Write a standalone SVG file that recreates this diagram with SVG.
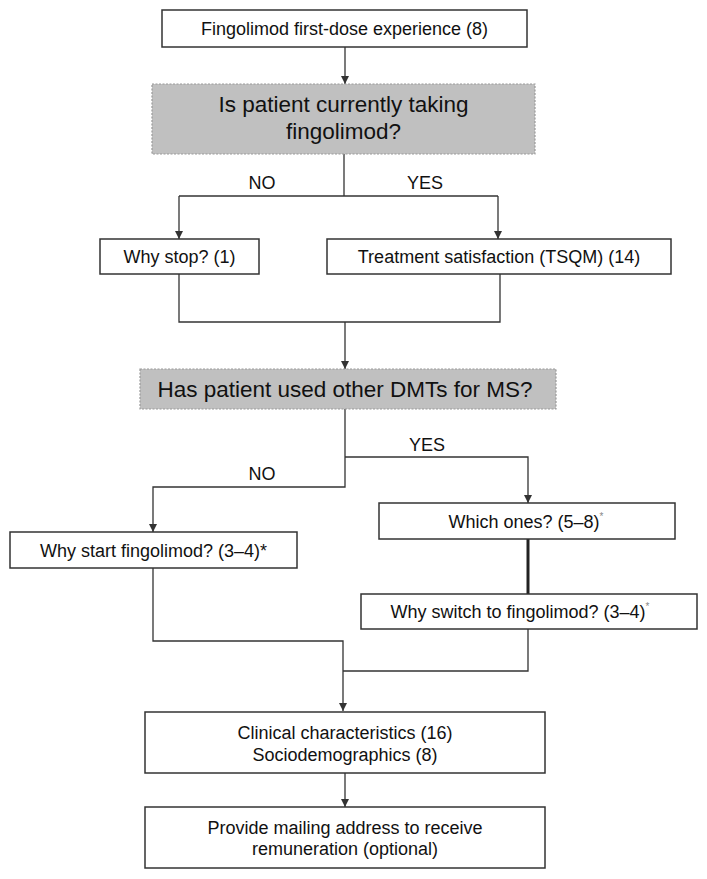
<svg xmlns="http://www.w3.org/2000/svg" width="707" height="879" viewBox="0 0 707 879">
<style>
.box{fill:#fff;stroke:#333;stroke-width:1.5}
.q{fill:#c0c0c0;stroke:#999;stroke-width:1.2;stroke-dasharray:2 1.5}
.t{font-family:"Liberation Sans",Arial,sans-serif;font-size:18px;fill:#111;text-anchor:middle}
.tq{font-family:"Liberation Sans",Arial,sans-serif;font-size:22.5px;fill:#111;text-anchor:middle}
.sup{font-size:10px;fill:#888}
.c{fill:none;stroke:#333;stroke-width:1.3}
</style>
<defs>
<marker id="ah" viewBox="0 0 10 10" refX="10" refY="5" markerWidth="8" markerHeight="8" markerUnits="userSpaceOnUse" orient="auto">
<path d="M0,0 L10,5 L0,10 z" fill="#333"/>
</marker>
</defs>
<g id="connectors">
<path class="c" d="M345,47 V84" marker-end="url(#ah)"/>
<path class="c" d="M344,154 V196"/>
<path class="c" d="M179,196 H498"/>
<path class="c" d="M179,196 V239" marker-end="url(#ah)"/>
<path class="c" d="M498,196 V239" marker-end="url(#ah)"/>
<path class="c" d="M179,274 V322 H500 V274"/>
<path class="c" d="M345,322 V369" marker-end="url(#ah)"/>
<path class="c" d="M345,409 V487 H153 V532" marker-end="url(#ah)"/>
<path class="c" d="M345,457 H528 V503" marker-end="url(#ah)"/>
<path d="M528,539 V594" fill="none" stroke="#222" stroke-width="3"/>
<path class="c" d="M153,568 V641 H343 V711" marker-end="url(#ah)"/>
<path class="c" d="M528,629 V671 H343"/>
<path class="c" d="M345,773 V807" marker-end="url(#ah)"/>
<text class="t" x="262" y="189">NO</text>
<text class="t" x="425" y="189">YES</text>
<text class="t" x="427" y="451">YES</text>
<text class="t" x="262" y="480">NO</text>
</g>
<g id="n1">
<rect class="box" x="162" y="10" width="365" height="37"/>
<text class="t" x="344.5" y="34.5">Fingolimod first-dose experience (8)</text>
</g>
<g id="q1">
<rect class="q" x="152" y="84" width="383" height="70"/>
<text class="tq" x="343.5" y="112">Is patient currently taking</text>
<text class="tq" x="343.5" y="139">fingolimod?</text>
</g>
<g id="n2">
<rect class="box" x="100" y="239" width="159" height="35"/>
<text class="t" x="179.5" y="263">Why stop? (1)</text>
</g>
<g id="n3">
<rect class="box" x="327" y="239" width="344" height="35"/>
<text class="t" x="499" y="263">Treatment satisfaction (TSQM) (14)</text>
</g>
<g id="q2">
<rect class="q" x="140" y="369" width="416" height="40"/>
<text class="tq" x="345" y="397">Has patient used other DMTs for MS?</text>
</g>
<g id="n4">
<rect class="box" x="10" y="532" width="287" height="36"/>
<text class="t" x="153.5" y="556.5">Why start fingolimod? (3–4)*</text>
</g>
<g id="n5">
<rect class="box" x="379" y="503" width="296" height="36"/>
<text class="t" x="526" y="527.5">Which ones? (5–8)<tspan class="sup" dy="-8">*</tspan></text>
</g>
<g id="n6">
<rect class="box" x="361" y="594" width="336" height="35"/>
<text class="t" x="520" y="618">Why switch to fingolimod? (3–4)<tspan class="sup" dy="-8">*</tspan></text>
</g>
<g id="n7">
<rect class="box" x="145" y="712" width="400" height="61"/>
<text class="t" x="345" y="738.5">Clinical characteristics (16)</text>
<text class="t" x="345" y="760.5">Sociodemographics (8)</text>
</g>
<g id="n8">
<rect class="box" x="145" y="807" width="400" height="61"/>
<text class="t" x="345" y="833.5">Provide mailing address to receive</text>
<text class="t" x="345" y="854.5">remuneration (optional)</text>
</g>
</svg>
